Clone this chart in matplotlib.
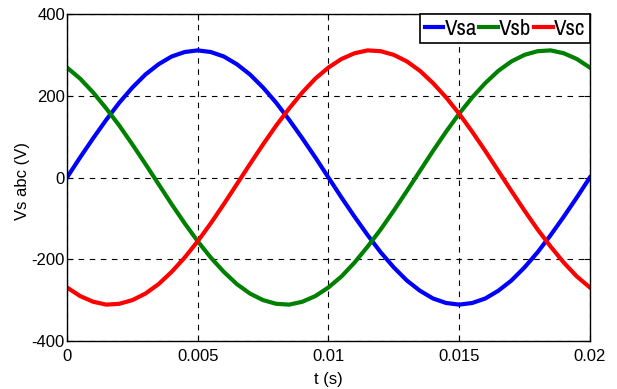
import matplotlib
matplotlib.use("Agg")
import matplotlib.pyplot as plt
from matplotlib import font_manager

names = {f.name for f in font_manager.fontManager.ttflist}
fam = [f for f in ["Liberation Sans", "Arimo", "DejaVu Sans"] if f in names] or ["DejaVu Sans"]
plt.rcParams['font.family'] = fam
narrow = [f for f in ["Liberation Sans Narrow", "Arial Narrow", "Archivo Narrow", "Roboto Condensed",
                      "Barlow Semi Condensed"] if f in names][:1] + fam

# time samples (s)
t = [i * 0.0005 for i in range(41)]
vsa = [0, 49, 96, 141, 183, 220, 252, 277, 296, 307, 311, 307, 296, 277, 252, 220, 183, 141, 96, 49,
       0, -49, -96, -141, -183, -220, -252, -277, -296, -307, -311, -307, -296, -277, -252, -220, -183, -141, -96, -49, 0]
vsb = [269, 242, 208, 169, 127, 81, 33, -16, -65, -112, -156, -196, -231, -261, -284, -300, -309, -311, -304, -290,
       -269, -242, -208, -169, -127, -81, -33, 16, 65, 112, 156, 196, 231, 261, 284, 300, 309, 311, 304, 290, 269]
vsc = [-269, -290, -304, -311, -309, -300, -284, -261, -231, -196, -156, -112, -65, -16, 33, 81, 127, 169, 208, 242,
       269, 290, 304, 311, 309, 300, 284, 261, 231, 196, 156, 112, 65, 16, -33, -81, -127, -169, -208, -242, -269]

xticks = [0, 0.005, 0.01, 0.015, 0.02]
xticklabels = ["0", "0.005", "0.01", "0.015", "0.02"]
yticks = [-400, -200, 0, 200, 400]
yticklabels = ["-400", "-200", "0", "200", "400"]

fig = plt.figure(figsize=(6.17, 3.89), dpi=100)
ax = fig.add_axes([0.1086, 0.1234, 0.956 - 0.1086, 0.964 - 0.1234])
ax.plot(t, vsa, color="#0000ff", lw=3, label="Vsa")
ax.plot(t, vsb, color="#008000", lw=3, label="Vsb")
ax.plot(t, vsc, color="#ff0000", lw=3, label="Vsc")
ax.set_xlim(0, 0.02)
ax.set_ylim(-400, 400)
ax.set_xticks(xticks)
ax.set_xticklabels(xticklabels)
ax.set_yticks(yticks)
ax.set_yticklabels(yticklabels)
ax.tick_params(direction="in", labelsize=12, length=4, top=True, right=True)
ax.tick_params(axis="x", pad=6)
ax.tick_params(axis="y", pad=1.5)
ax.grid(True, color="black", linestyle=(0, (5, 5)), linewidth=0.8)
for s in ax.spines.values():
    s.set_linewidth(1.0)
ax.set_xlabel("t (s)", fontsize=12)
ax.set_ylabel("Vs abc (V)", fontsize=12)
ax.xaxis.set_label_coords(0.5, -0.095)
ax.yaxis.set_label_coords(-0.071, 0.49)
leg = ax.legend(loc="upper right", ncol=3, prop={"family": narrow, "size": 16.5}, frameon=True, fancybox=False,
                borderaxespad=0, handlelength=0.8, handletextpad=0.06, columnspacing=0.12,
                borderpad=0.2, edgecolor="black", framealpha=1)
leg.get_frame().set_linewidth(1.2)
fig.savefig("out.png", dpi=100)
